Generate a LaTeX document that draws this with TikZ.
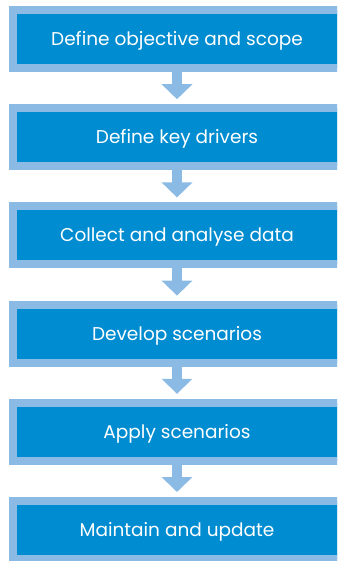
\documentclass[tikz,border=0pt]{standalone}
\usepackage{fontspec}
\setmainfont{Poppins}
\usetikzlibrary{arrows.meta}
\definecolor{lightblue}{HTML}{8BBBE4}
\definecolor{darkblue}{HTML}{008CD0}
\tikzset{
  stepbox/.style={rectangle, fill=darkblue, draw=lightblue, line width=8pt,
    minimum width=328pt, minimum height=58pt, inner sep=0pt,
    text height=13pt, text depth=0pt,
    text=white, font=\fontsize{18.5pt}{22pt}\selectfont},
  flowarrow/.style={draw=lightblue, line width=10pt,
    -{Triangle[width=30pt,length=15pt]}, shorten >=5pt}
}
\begin{document}
\begin{tikzpicture}[x=1pt,y=-1pt]
\useasboundingbox (0,0) rectangle (337,561);
\begin{scope}
\clip (0,0) rectangle (337,561);
\node[stepbox] (s1) at (177,39) {Define objective and scope};
\node[stepbox] (s2) at (177,137.2) {Define key drivers};
\node[stepbox] (s3) at (177,235.4) {Collect and analyse data};
\node[stepbox] (s4) at (177,333.6) {Develop scenarios};
\node[stepbox] (s5) at (177,431.8) {Apply scenarios};
\node[stepbox] (s6) at (177,530) {Maintain and update};
\foreach \a/\b in {s1/s2,s2/s3,s3/s4,s4/s5,s5/s6}
  \draw[flowarrow] (\a.south) -- (\b.north);
\end{scope}
\end{tikzpicture}
\end{document}
